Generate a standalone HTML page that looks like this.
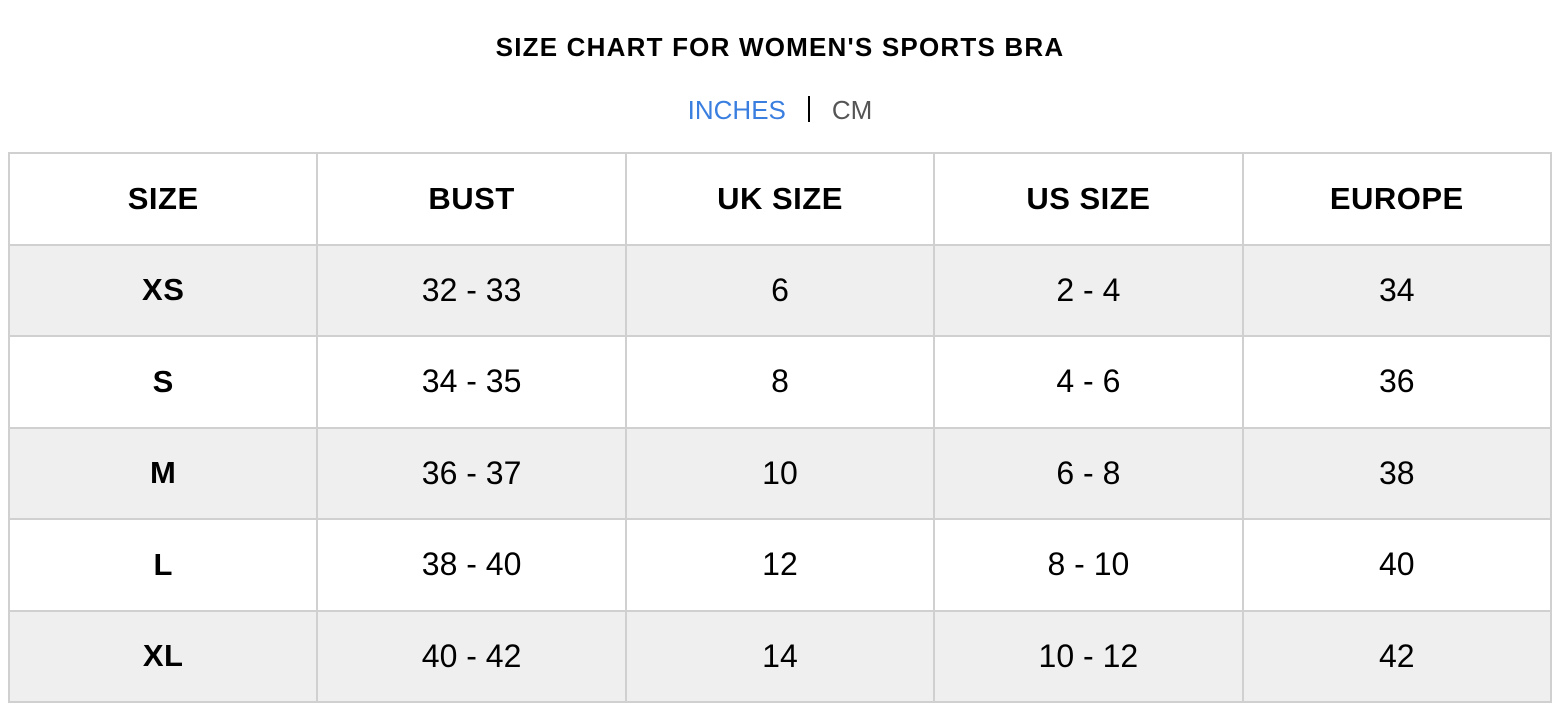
<!DOCTYPE html>
<html><head><style>
body{margin:0;background:#fff;width:1566px;height:720px;position:relative;font-family:"Liberation Sans",sans-serif;color:#000;overflow:hidden}
.title{position:absolute;top:32px;left:0;width:1560px;text-align:center;font-weight:bold;font-size:26px;letter-spacing:1.2px}
.units{position:absolute;top:95px;left:0;width:1560px;text-align:center;font-size:26px}
.units .in{color:#3a7fe0}
.units .sep{display:inline-block;width:2px;height:26px;background:#000;vertical-align:-3px;margin:0 22px}
.units .cm{color:#555}
table{position:absolute;left:8px;top:152px;border-collapse:collapse;width:1544px;table-layout:fixed}
td{border:2px solid #d0d0d0;height:89.5px;text-align:center;font-size:32px;padding:0}
tr.g td{background:#efefef}
tr.h td,td.b{font-weight:bold;font-size:31px;letter-spacing:0.5px}
</style></head><body>
<div class="title">SIZE CHART FOR WOMEN'S SPORTS BRA</div>
<div class="units"><span class="in">INCHES</span><span class="sep"></span><span class="cm">CM</span></div>
<table>
<tr class="h"><td>SIZE</td><td>BUST</td><td>UK SIZE</td><td>US SIZE</td><td>EUROPE</td></tr>
<tr class="g"><td class="b">XS</td><td>32 - 33</td><td>6</td><td>2 - 4</td><td>34</td></tr>
<tr><td class="b">S</td><td>34 - 35</td><td>8</td><td>4 - 6</td><td>36</td></tr>
<tr class="g"><td class="b">M</td><td>36 - 37</td><td>10</td><td>6 - 8</td><td>38</td></tr>
<tr><td class="b">L</td><td>38 - 40</td><td>12</td><td>8 - 10</td><td>40</td></tr>
<tr class="g"><td class="b">XL</td><td>40 - 42</td><td>14</td><td>10 - 12</td><td>42</td></tr>
</table>
</body></html>
